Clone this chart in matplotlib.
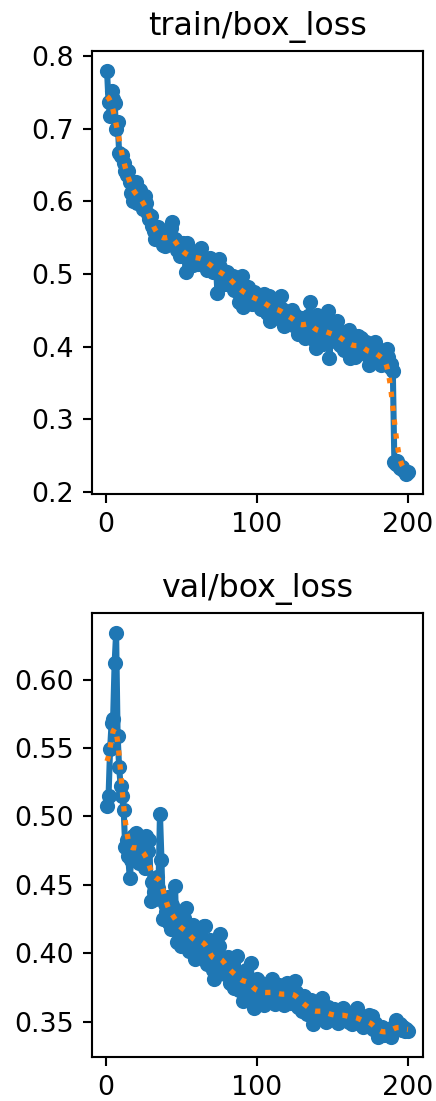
import numpy as np
import matplotlib
matplotlib.use("Agg")
import matplotlib.pyplot as plt

# epochs 1..200
epochs = np.arange(1, 201)

train_box_loss = [
    0.779, 0.736, 0.717, 0.752, 0.741, 0.735, 0.700, 0.709, 0.667, 0.662,
    0.664, 0.652, 0.642, 0.636, 0.641, 0.626, 0.612, 0.600, 0.608, 0.626,
    0.598, 0.604, 0.616, 0.596, 0.590, 0.607, 0.598, 0.582, 0.575, 0.580,
    0.566, 0.559, 0.548, 0.552, 0.565, 0.547, 0.556, 0.540, 0.538, 0.552,
    0.545, 0.552, 0.563, 0.571, 0.543, 0.548, 0.533, 0.538, 0.525, 0.537,
    0.542, 0.530, 0.503, 0.543, 0.526, 0.519, 0.528, 0.512, 0.530, 0.520,
    0.514, 0.526, 0.536, 0.520, 0.512, 0.522, 0.506, 0.517, 0.522, 0.509,
    0.503, 0.516, 0.512, 0.474, 0.520, 0.510, 0.497, 0.504, 0.486, 0.502,
    0.500, 0.492, 0.488, 0.497, 0.478, 0.494, 0.486, 0.462, 0.483, 0.497,
    0.454, 0.478, 0.470, 0.482, 0.465, 0.472, 0.458, 0.475, 0.463, 0.470,
    0.466, 0.461, 0.452, 0.468, 0.472, 0.458, 0.446, 0.470, 0.435, 0.455,
    0.462, 0.450, 0.445, 0.456, 0.440, 0.469, 0.452, 0.428, 0.445, 0.448,
    0.440, 0.436, 0.451, 0.430, 0.444, 0.437, 0.418, 0.433, 0.440, 0.421,
    0.427, 0.412, 0.436, 0.442, 0.462, 0.430, 0.410, 0.425, 0.398, 0.444,
    0.420, 0.430, 0.415, 0.403, 0.425, 0.437, 0.449, 0.384, 0.410, 0.418,
    0.425, 0.408, 0.435, 0.414, 0.402, 0.420, 0.408, 0.396, 0.412, 0.403,
    0.423, 0.384, 0.410, 0.398, 0.386, 0.405, 0.414, 0.395, 0.412, 0.401,
    0.393, 0.407, 0.388, 0.375, 0.398, 0.385, 0.402, 0.407, 0.392, 0.382,
    0.387, 0.375, 0.392, 0.380, 0.378, 0.397, 0.386, 0.372, 0.376, 0.366,
    0.242, 0.238, 0.243, 0.236, 0.233, 0.235, 0.230, 0.229, 0.225, 0.227,
]

val_box_loss = [
    0.508, 0.515, 0.549, 0.568, 0.571, 0.612, 0.634, 0.559, 0.536, 0.522,
    0.515, 0.505, 0.478, 0.483, 0.471, 0.455, 0.468, 0.486, 0.481, 0.488,
    0.479, 0.466, 0.484, 0.470, 0.476, 0.462, 0.486, 0.475, 0.483, 0.438,
    0.452, 0.445, 0.440, 0.456, 0.448, 0.502, 0.468, 0.425, 0.436, 0.430,
    0.441, 0.422, 0.418, 0.435, 0.428, 0.449, 0.408, 0.423, 0.414, 0.405,
    0.418, 0.426, 0.433, 0.410, 0.402, 0.417, 0.409, 0.421, 0.396, 0.412,
    0.404, 0.418, 0.398, 0.407, 0.420, 0.420, 0.392, 0.401, 0.410, 0.395,
    0.388, 0.381, 0.400, 0.392, 0.405, 0.414, 0.387, 0.396, 0.385, 0.392,
    0.397, 0.378, 0.388, 0.392, 0.375, 0.386, 0.398, 0.373, 0.380, 0.384,
    0.365, 0.382, 0.388, 0.376, 0.379, 0.393, 0.372, 0.360, 0.370, 0.381,
    0.374, 0.366, 0.378, 0.371, 0.362, 0.377, 0.369, 0.374, 0.366, 0.381,
    0.372, 0.363, 0.375, 0.368, 0.377, 0.365, 0.373, 0.362, 0.371, 0.378,
    0.370, 0.364, 0.373, 0.367, 0.380, 0.372, 0.361, 0.368, 0.365, 0.358,
    0.369, 0.362, 0.356, 0.365, 0.359, 0.366, 0.348, 0.358, 0.352, 0.362,
    0.355, 0.360, 0.367, 0.353, 0.358, 0.350, 0.361, 0.354, 0.357, 0.352,
    0.359, 0.352, 0.356, 0.349, 0.355, 0.358, 0.360, 0.351, 0.354, 0.357,
    0.350, 0.355, 0.348, 0.357, 0.352, 0.360, 0.349, 0.354, 0.351, 0.346,
    0.352, 0.347, 0.350, 0.355, 0.348, 0.354, 0.345, 0.349, 0.343, 0.339,
    0.344, 0.341, 0.346, 0.340, 0.343, 0.341, 0.345, 0.342, 0.339, 0.344,
    0.347, 0.351, 0.346, 0.345, 0.348, 0.344, 0.346, 0.343, 0.345, 0.343,
]

titles = ["train/box_loss", "val/box_loss"]


# gaussian smoothing (sigma=3, reflect edges), same as the usual training-curve plot
def smooth(y, sigma=3.0):
    y = np.asarray(y, dtype=float)
    r = int(4 * sigma + 0.5)
    k = np.exp(-0.5 * (np.arange(-r, r + 1) / sigma) ** 2)
    k /= k.sum()
    yp = np.pad(y, r, mode="symmetric")
    return np.convolve(yp, k, mode="valid")


S = 1.9  # scale factor, picture looks like a downsized high-dpi plot
plt.rcParams["font.size"] = 10.2 * S
plt.rcParams["axes.titlesize"] = 12 * S
plt.rcParams["axes.linewidth"] = 0.8 * S
plt.rcParams["xtick.major.width"] = 0.8 * S
plt.rcParams["ytick.major.width"] = 0.8 * S
plt.rcParams["xtick.major.size"] = 3.5 * S
plt.rcParams["ytick.major.size"] = 3.5 * S
plt.rcParams["xtick.major.pad"] = 3.5 * S
plt.rcParams["ytick.major.pad"] = 3.5 * S
plt.rcParams["axes.titlepad"] = 6 * S

fig = plt.figure(figsize=(4.36, 11.01), dpi=100)
ax1 = fig.add_axes([0.211, 0.5513, 0.7592, 0.4024])
ax2 = fig.add_axes([0.211, 0.0400, 0.7592, 0.4033])

for ax, y, t in zip([ax1, ax2], [train_box_loss, val_box_loss], titles):
    ax.plot(epochs, y, marker=".", linewidth=2.3 * S, markersize=9.5 * S,
            markeredgewidth=1 * S, color="C0")
    ax.plot(epochs, smooth(y), ":", linewidth=2 * S, color="C1")
    ax.set_title(t)
    ax.set_xticks([0, 100, 200])

fig.savefig("out.png", dpi=100)
